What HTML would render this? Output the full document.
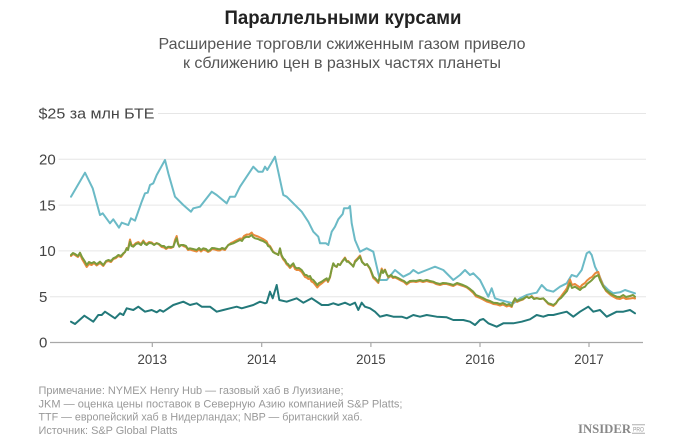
<!DOCTYPE html>
<html><head><meta charset="utf-8"><style>
html,body{margin:0;padding:0;background:#fff;}
svg{display:block;}
</style></head><body>
<svg width="680" height="445" viewBox="0 0 680 445" xmlns="http://www.w3.org/2000/svg" font-family="'Liberation Sans', sans-serif">
<rect width="680" height="445" fill="#fff"/>
<text x="343" y="24" text-anchor="middle" font-size="19" font-weight="bold" fill="#222" textLength="237" lengthAdjust="spacingAndGlyphs">Параллельными курсами</text>
<text x="342" y="49" text-anchor="middle" font-size="16" fill="#555" textLength="367" lengthAdjust="spacingAndGlyphs">Расширение торговли сжиженным газом привело</text>
<text x="342" y="68" text-anchor="middle" font-size="16" fill="#555" textLength="318" lengthAdjust="spacingAndGlyphs">к сближению цен в разных частях планеты</text>

<g stroke="#e6e6e6" stroke-width="1">
<line x1="158" y1="113.5" x2="646" y2="113.5"/>
<line x1="58.5" y1="159.3" x2="646" y2="159.3"/>
<line x1="58.5" y1="205.1" x2="646" y2="205.1"/>
<line x1="58.5" y1="250.9" x2="646" y2="250.9"/>
<line x1="50" y1="296.7" x2="646" y2="296.7"/>
</g>
<g font-size="15" fill="#444">
<text x="38.5" y="118.5" textLength="116" lengthAdjust="spacingAndGlyphs">$25 за млн БТЕ</text>
<text x="39" y="164.5">20</text>
<text x="39" y="210.3">15</text>
<text x="39" y="256.1">10</text>
<text x="39" y="301.9">5</text>
<text x="39" y="347.7">0</text>
</g>
<line x1="50" y1="342.5" x2="643" y2="342.5" stroke="#a8a8a8" stroke-width="1.2"/>
<g stroke="#a8a8a8" stroke-width="1.2">
<line x1="152.3" y1="342.5" x2="152.3" y2="347"/>
<line x1="261.7" y1="342.5" x2="261.7" y2="347"/>
<line x1="370.9" y1="342.5" x2="370.9" y2="347"/>
<line x1="480" y1="342.5" x2="480" y2="347"/>
<line x1="589" y1="342.5" x2="589" y2="347"/>
</g>
<g font-size="13.5" fill="#444" text-anchor="middle">
<text x="152.3" y="364" textLength="29.5" lengthAdjust="spacingAndGlyphs">2013</text>
<text x="261.7" y="364" textLength="29.5" lengthAdjust="spacingAndGlyphs">2014</text>
<text x="370.9" y="364" textLength="29.5" lengthAdjust="spacingAndGlyphs">2015</text>
<text x="480" y="364" textLength="29.5" lengthAdjust="spacingAndGlyphs">2016</text>
<text x="589" y="364" textLength="29.5" lengthAdjust="spacingAndGlyphs">2017</text>
</g>

<g fill="none" stroke-width="2" stroke-linejoin="round" stroke-linecap="round">
<!-- JKM -->
<polyline stroke="#6bbac6" points="71,196.7 85,172.7 92.7,188.3 100,215 102.7,213.3 110,223.3 113.3,219.3 119,227.7 121.7,222.7 128.3,225 131,218.3 135,220.7 141.7,201.7 145,193.3 147.7,192.7 150,185 153.3,183.3 156.7,175 165,160 168.3,173.3 175,196.7 183.3,205 191,211.7 193.3,208.3 200,206.7 211.7,191.7 216.7,195 226.7,203.3 230,196.7 235,196.7 240,186.7 253.3,166.7 258.3,171.7 262.7,171.7 265,166.7 267.3,170 275,156.7 283.3,195 286.7,196.7 293.3,203.3 301.7,211.7 308.3,221.7 313.3,231.7 318.3,236.7 320,243.3 326,243.3 328.3,245 331.7,231.7 335,226.7 338.3,219.3 342.7,214 344,208.3 348.3,208.3 350,206 351.7,223.3 355,240 360,251.7 366.7,248.3 373.3,251.7 378.3,273.3 380,280 386.7,280 395,270 403.3,276.7 410,273.3 413.3,270 418.3,273.3 426.7,270 435,266.7 443.3,270 453.3,280 460,275 465,270 470,275 473.3,273.3 480,280 485,290 488.3,296.7 491.7,288.3 495,298.3 500,300 506.7,301.7 513.3,303.3 520,298.3 526.7,295 533.3,293.3 536.7,292.7 541.7,285 546.7,290 553.3,291.7 560,286.7 566.7,283.3 571.7,275 576.7,276.7 581.7,270 586.7,253.3 589.3,251.7 591.7,255 595,266.7 598.3,273.3 603.3,285 608.3,290 613.3,293.3 620,292.3 625,290 630,291.7 635,293.3"/>
<!-- NBP -->
<polyline stroke="#e8893b" points="71,256 73,254 75,255 78,257 80,254 82,259 85,264 86.7,267 89,264 91.7,265 94,263 96.7,265.5 100,263 103.3,266 106,262 108.3,261 111,262 113.3,259 116,258 118.3,256 121,257 123.3,254 125,252 126.7,248 128,249 130,239.5 131.5,245 133.3,245.5 136,243 138.3,242 141,244 143.3,240.5 145,243 146.7,244 149,242 151.7,242.5 154,244.5 156.7,243 159,244.5 161.7,247 164,247.5 166,249 168.3,247.5 171,248 173.3,247 175,240 176.7,236 178,243 179.3,246 181,245 183.3,246 186,247 188,250 190,249.5 193,250.5 196.7,251.5 199,249.5 201,251.5 203.3,249.5 206,250.5 208,252 210,251 212,249 215,249.5 218,250.5 220,250.5 222,249 225,250 228.3,245 231,243 233.3,242 236,240.5 238,239.5 240,238.5 242,239 244,236 246.7,234.5 249,234.5 251.7,232.5 253,234.5 255,235.5 258,236.5 260,237.5 263,239 266.7,241.5 268,244.5 270,246 271.7,249 273,251.5 275,253 277,254 278.3,255 280,249 281.5,256 283.3,259.5 285,261.5 286.7,264.5 288,265.5 290,268 291.5,266.5 293.3,265 295,269 296.7,270 299,270 301.7,272 303,274 305,277 306.5,277.5 308.3,279 310,278.5 311.5,281.5 313.3,282.5 315,284.5 317.3,287.5 319,285.5 321.7,283.5 324,281.5 326.7,279.5 328,282 330,277.5 331.5,270 333.3,263.5 335,266 336.7,267 338,264 340,265 342,261.5 345,257.5 346.7,261 348.3,261 350,263 352,265 353.3,266.5 355,261 357,259 360,255.5 362,261.5 365,265 367,264.5 370,269 371.5,273 373.3,278 375,279.5 378.3,283 380,276 381.7,268.5 383,272 385,269.5 386.7,274 388.3,277.5 391,276 393,278 395,277.5 398,279 401.7,281 404,282 406.7,284.5 410,282 413.3,281.5 416,282 420,281 423,282 426.7,281 430,282 433.3,282.5 436,284 440,285 443,284 446.7,284 450,285 453.3,286 457,284 460,285 463,286 466.7,287.5 470,290 473.3,293 476,296.5 480,298 483,299.5 486.7,301.5 490,302.5 493.3,304 497,304.5 500,305.5 503,304.5 506.7,306.5 509,305.5 511.7,307 513,303 515,299 517,302 520,300.5 523,299.5 526.7,296.5 529,298 531.7,296 534,298.5 536.7,298 540,299 543.3,298.5 546,301.5 548.3,304 551,305 553.3,306 556,303.5 558.3,299.5 561,296.5 565,291 567,288 570,279.5 572,285 575,284 577,285.5 580,287.5 582,285 585,283 587,280.5 590,278 592,277 595,273.5 596.5,272.5 598.3,272 600,278 603.3,286 606,291 610,294.5 613,296.5 616.7,298.5 620,299 623.3,297.5 626,299 630,298.5 633,298 635,298.5"/>
<!-- TTF -->
<polyline stroke="#7b9b3c" points="71,255 73,253 75,254 78,256 80,252.7 82,257 85,261.7 86.7,265 89,262 91.7,263.3 94,262 96.7,264.3 100,261.7 103.3,265 106,261 108.3,260 111,261 113.3,258.3 116,257 118.3,255 121,256 123.3,253.3 125,252 126.7,248.3 128,250 130,241.7 131.5,246 133.3,246.7 136,244 138.3,243.3 141,245 143.3,241.7 145,244 146.7,245 149,243 151.7,243.3 154,245 156.7,243.3 159,244 161.7,246 164,246 166,248 168.3,246.7 171,247 173.3,246.7 175,242 176.7,238.3 178,244 179.3,246.7 181,245 183.3,245 186,246 188,249 190,248.3 193,249 196.7,250 199,248 201,250 203.3,248.3 206,249 208,251 210,250 212,248 215,248.3 218,249 220,249.3 222,248 225,249 228.3,245 231,244 233.3,243.3 236,242 238,241 240,240 242,241 244,238 246.7,236.7 249,237 251.7,235 253,237 255,238.3 258,239 260,240 263,241 266.7,243.3 268,246 270,247 271.7,250 273,252 275,253.3 277,254 278.3,255 280,248.3 281.5,255 283.3,258.3 285,260 286.7,263.3 288,264 290,266.7 291.5,265 293.3,263.3 295,267 296.7,268.3 299,268 301.7,270 303,272 305,275 306.5,275 308.3,276.7 310,276 311.5,279 313.3,280 315,282 317.3,285 319,283 321.7,281.7 324,280 326.7,278.3 328,281 330,276.7 331.5,270 333.3,263.3 335,266 336.7,266.7 338,264 340,265 342,262 345,258.3 346.7,261.7 348.3,261.7 350,263.3 352,265 353.3,266.7 355,262 357,260 360,256.7 362,262 365,265 367,264 370,268.3 371.5,272 373.3,276.7 375,278 378.3,281.7 380,276 381.7,270 383,273 385,270 386.7,274 388.3,276.7 391,275 393,277 395,276.7 398,278 401.7,280 404,281 406.7,283.3 410,281 413.3,280.7 416,281 420,280 423,281 426.7,280 430,281 433.3,281.7 436,283 440,284 443,283 446.7,283.3 450,284 453.3,285 457,283 460,284 463,285 466.7,286.7 470,289 473.3,291.7 476,295 480,296.7 483,298 486.7,300 490,301 493.3,302.7 497,303 500,304 503,303 506.7,305 509,304 511.7,306 513,302 515,298.3 517,301 520,300 523,299 526.7,296.7 529,298 531.7,296.7 534,299 536.7,298.3 540,299 543.3,298.3 546,301 548.3,303.3 551,304 553.3,305 556,303 558.3,300 561,298 565,293.3 567,291 570,283.3 572,288 575,286.7 577,288 580,290 582,288 585,286.7 587,284 590,281.7 592,280 595,276.7 596.5,276 598.3,275 600,280 603.3,286.7 606,290 610,293.3 613,295 616.7,296.7 620,297 623.3,295 626,297 630,296 633,295 635,296.7"/>
<!-- Henry Hub -->
<polyline stroke="#23797a" points="71,321.7 75,324 84.3,315.7 93.3,321.7 98.3,315 101.7,315 105,311.7 115,318.3 120,313.3 123.3,315 126.7,308.3 133.3,310 138.3,306.7 145,311.7 151.7,310 156.7,312.3 160,310 163.3,311.7 173.3,305 183.3,301.7 190,305 196.7,303.3 201.7,306.7 210,306.7 216.7,311.7 223.3,310 230,308.3 236.7,306.7 241.7,308.3 253.3,305 260,301.7 265,303.3 266.7,302.7 270,291.7 272.7,298.3 276.7,285 279.3,300 286.7,301.7 296.7,298.3 303.3,302.7 311.7,298.3 321.7,305 328.3,305 333.3,303.3 338.3,305 343.3,303.3 345,302.7 350,305 355,302.7 358.3,310 361.7,302.7 365,306.7 370,308.3 375,311.7 380,316.7 386.7,315 393.3,316.7 401.7,316.7 406.7,318.3 413.3,315 420,316.7 426.7,315 436.7,316.7 446.7,317.3 453.3,320 463.3,320 470,321.7 475,325 480,320 483.3,319 488.3,323.3 496.7,326.7 503.3,323.3 513.3,323.3 521.7,321.7 530,319.3 536.7,315 543.3,316.7 548.3,315 553.3,315 560,313.3 566.7,311.7 573.3,316.7 580,311.7 588.3,306.7 593.3,311.7 600,310 606.7,316.7 616.7,311.7 623.3,311.7 630,310 635,313.3"/>
</g>

<g font-size="11.4" fill="#999">
<text x="38.5" y="394" textLength="305" lengthAdjust="spacingAndGlyphs">Примечание: NYMEX Henry Hub — газовый хаб в Луизиане;</text>
<text x="38.5" y="407.3" textLength="364" lengthAdjust="spacingAndGlyphs">JKM — оценка цены поставок в Северную Азию компанией S&amp;P Platts;</text>
<text x="38.5" y="420.6" textLength="324" lengthAdjust="spacingAndGlyphs">TTF — европейский хаб в Нидерландах; NBP — британский хаб.</text>
<text x="38.5" y="434" textLength="139" lengthAdjust="spacingAndGlyphs">Источник: S&amp;P Global Platts</text>
</g>
<text x="578" y="433" font-family="'Liberation Serif', serif" font-weight="bold" font-size="13" fill="#888" textLength="53" lengthAdjust="spacingAndGlyphs">INSIDER</text>
<g stroke="#999" stroke-width="0.8">
<line x1="632" y1="424.8" x2="645" y2="424.8"/>
<line x1="632" y1="433.2" x2="645" y2="433.2"/>
</g>
<text x="638.5" y="431.5" text-anchor="middle" font-size="6.5" fill="#999" textLength="11" lengthAdjust="spacingAndGlyphs">PRO</text>
</svg>
</body></html>
